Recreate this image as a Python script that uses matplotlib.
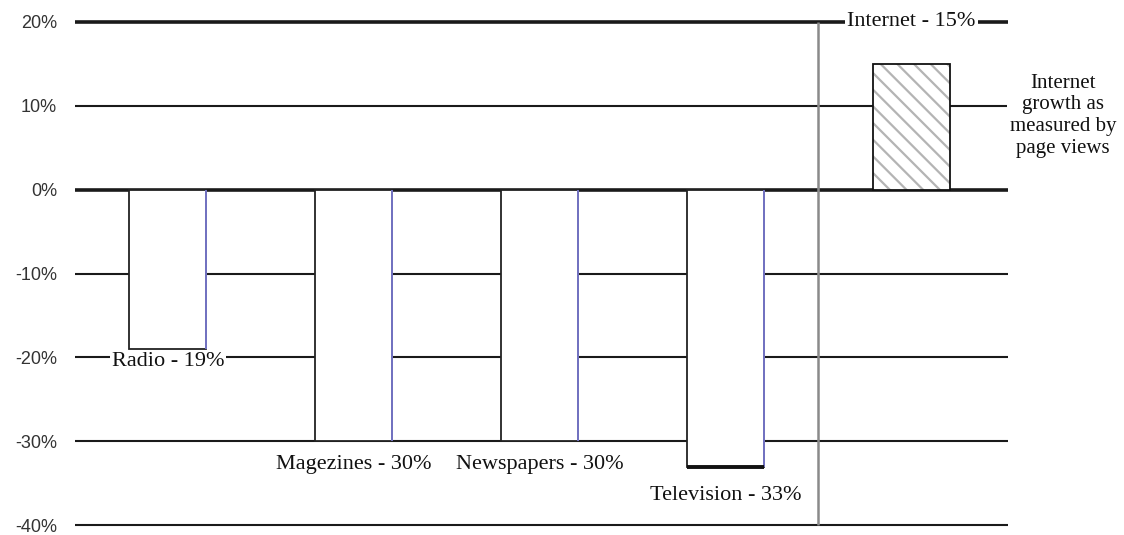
import matplotlib.pyplot as plt

# media growth/decline, percent
media = ["Radio", "Magezines", "Newspapers", "Television", "Internet"]
values = [-19, -30, -30, -33, 15]
labels = ["Radio - 19%", "Magezines - 30%", "Newspapers - 30%", "Television - 33%", "Internet - 15%"]
label_y = [-20.5, -32.7, -32.7, -36.4, 20]
gridlines = [20, 10, 0, -10, -20, -30, -40]
ticklabels = ["20%", "10%", "0%", "-10%", "-20%", "-30%", "-40%"]
note = "Internet\ngrowth as\nmeasured by\npage views"

plt.rcParams['hatch.linewidth'] = 1.6

fig = plt.figure(figsize=(11.24, 5.35), dpi=100)
ax = fig.add_axes([75 / 1124, 5.5 / 535, 933 / 1124, 512 / 535])
ax.set_xlim(-0.5, 4.52)
ax.set_ylim(-40.5, 20.5)

# horizontal rules, the 20% and 0% ones are heavier
for g in gridlines:
    lw = 2.6 if g in (20, 0) else 1.5
    ax.axhline(g, color="#1a1a1a", lw=lw, zorder=1)

x = list(range(len(media)))
w = 0.414

# old media bars: plain white boxes
ax.bar(x[:4], values[:4], width=w, color="white", edgecolor="#222222", linewidth=1.3, zorder=2)
ax.vlines([i + w / 2 for i in x[:4]], 0, values[:4], color="#7474c4", lw=1.4, zorder=3)
ax.hlines(values[3], x[3] - w / 2, x[3] + w / 2, color="#111111", lw=2.8, zorder=3)

# internet bar, hatched
ax.bar(x[4], values[4], width=w, color="white", edgecolor="#b4b4b4", hatch="\\\\", linewidth=0, zorder=2)
ax.bar(x[4], values[4], width=w, color="none", edgecolor="#111111", linewidth=1.3, zorder=3)

# divider between old media and internet
ax.vlines(3.5, -40, 20, color="#8a8a8a", lw=1.8, zorder=2)

for i in x:
    ax.text(i, label_y[i], labels[i], ha="center", va="center", family="Liberation Serif",
            fontsize=16, color="#111111", zorder=5,
            bbox=dict(facecolor="white", edgecolor="none", pad=1.5))

ax.text(4.815, 8.8, note, ha="center", va="center", family="Liberation Serif", fontsize=15,
        linespacing=1.2, color="#111111", zorder=5,
        bbox=dict(facecolor="white", edgecolor="none", pad=2))

ax.set_yticks(gridlines)
ax.set_yticklabels(ticklabels, family="Liberation Sans", fontsize=13, color="#333333")
ax.tick_params(axis="y", length=0, pad=13)
ax.set_xticks([])
for s in ax.spines.values():
    s.set_visible(False)

fig.savefig("out.png", dpi=100)
